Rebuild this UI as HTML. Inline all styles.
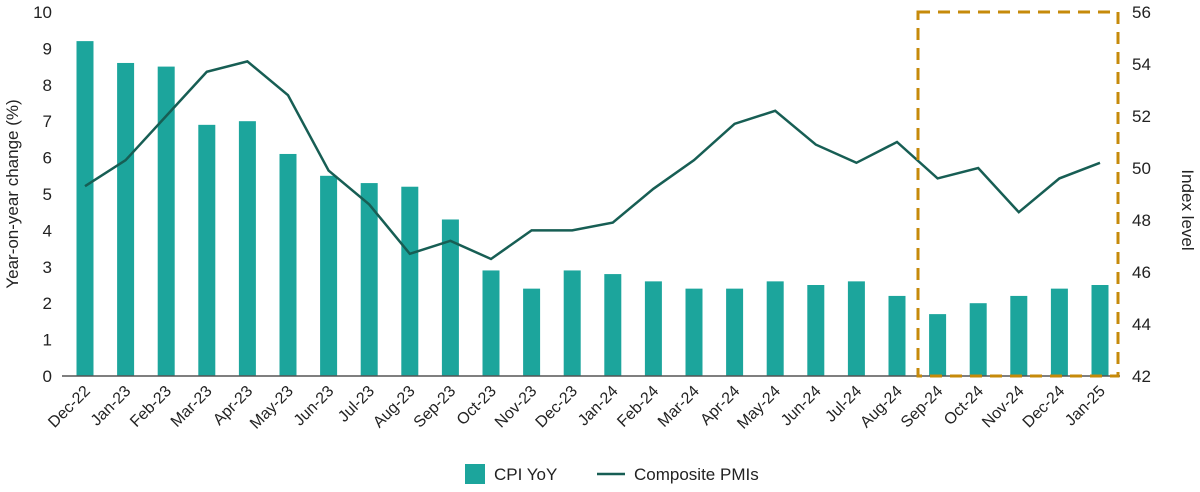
<!DOCTYPE html>
<html><head><meta charset="utf-8"><style>
body{margin:0;background:#fff;font-family:"Liberation Sans",sans-serif;}
svg text{font-family:"Liberation Sans",sans-serif;fill:#222;}
</style></head><body>
<svg id="chart" width="1200" height="487" xmlns="http://www.w3.org/2000/svg"></svg>
<script>
const categories=["Dec-22","Jan-23","Feb-23","Mar-23","Apr-23","May-23","Jun-23","Jul-23","Aug-23","Sep-23","Oct-23","Nov-23","Dec-23","Jan-24","Feb-24","Mar-24","Apr-24","May-24","Jun-24","Jul-24","Aug-24","Sep-24","Oct-24","Nov-24","Dec-24","Jan-25"];
const cpiValues=[9.2,8.6,8.5,6.9,7.0,6.1,5.5,5.3,5.2,4.3,2.9,2.4,2.9,2.8,2.6,2.4,2.4,2.6,2.5,2.6,2.2,1.7,2.0,2.2,2.4,2.5];
const pmiValues=[49.3,50.3,52.0,53.7,54.1,52.8,49.9,48.6,46.7,47.2,46.5,47.6,47.6,47.9,49.2,50.3,51.7,52.2,50.9,50.2,51.0,49.6,50.0,48.3,49.6,50.2];
const leftTicks=[0,1,2,3,4,5,6,7,8,9,10];
const rightTicks=[42,44,46,48,50,52,54,56];

const svg=document.getElementById('chart');
const NS='http://www.w3.org/2000/svg';
const x0=85,x1=1100,yTop=12,yBot=376;
const xPos=i=>x0+(x1-x0)*i/(categories.length-1);
const yL=v=>yBot-(yBot-yTop)*v/10;
const yR=v=>yBot-(yBot-yTop)*(v-42)/14;
function mk(tag,attrs,parent){const e=document.createElementNS(NS,tag);for(const k in attrs)e.setAttribute(k,attrs[k]);(parent||svg).appendChild(e);return e;}

leftTicks.forEach(t=>{const e=mk('text',{x:52,y:yL(t)+6,'text-anchor':'end','font-size':17});e.textContent=t;

});
rightTicks.forEach(t=>{const e=mk('text',{x:1132,y:yR(t)+6,'font-size':17});e.textContent=t;

});

cpiValues.forEach((v,i)=>{const b=mk('rect',{x:xPos(i)-8.5,y:yL(v),width:17,height:yBot-yL(v),fill:'#1ca59c'});

});

const ax=mk('line',{x1:62,x2:1120,y1:yBot,y2:yBot,stroke:'#555','stroke-width':1.5});



const pl=mk('polyline',{points:pmiValues.map((v,i)=>xPos(i)+','+yR(v)).join(' '),fill:'none',stroke:'#175e54','stroke-width':2.5});



categories.forEach((c,i)=>{const e=mk('text',{x:xPos(i)+6,y:392,'text-anchor':'end','font-size':16,transform:`rotate(-45 ${xPos(i)+6} 392)`});e.textContent=c;

});

const box=mk('rect',{x:918,y:12,width:200,height:364,fill:'none',stroke:'#c68a0a','stroke-width':3,'stroke-dasharray':'12 8'});



const yt=mk('text',{x:18,y:194,'text-anchor':'middle','font-size':17,transform:'rotate(-90 18 194)'});yt.textContent='Year-on-year change (%)';


const rt=mk('text',{x:1182,y:210,'text-anchor':'middle','font-size':17,transform:'rotate(90 1182 210)'});rt.textContent='Index level';



const g=mk('g',{});


const l1=mk('rect',{x:465,y:464,width:20,height:20,fill:'#1ca59c'},g);


const t1=mk('text',{x:494,y:480,'font-size':17},g);t1.textContent='CPI YoY';


const l2=mk('line',{x1:597,x2:625,y1:474,y2:474,stroke:'#175e54','stroke-width':2.5},g);


const t2=mk('text',{x:634,y:480,'font-size':17},g);t2.textContent='Composite PMIs';


</script>
</body></html>
